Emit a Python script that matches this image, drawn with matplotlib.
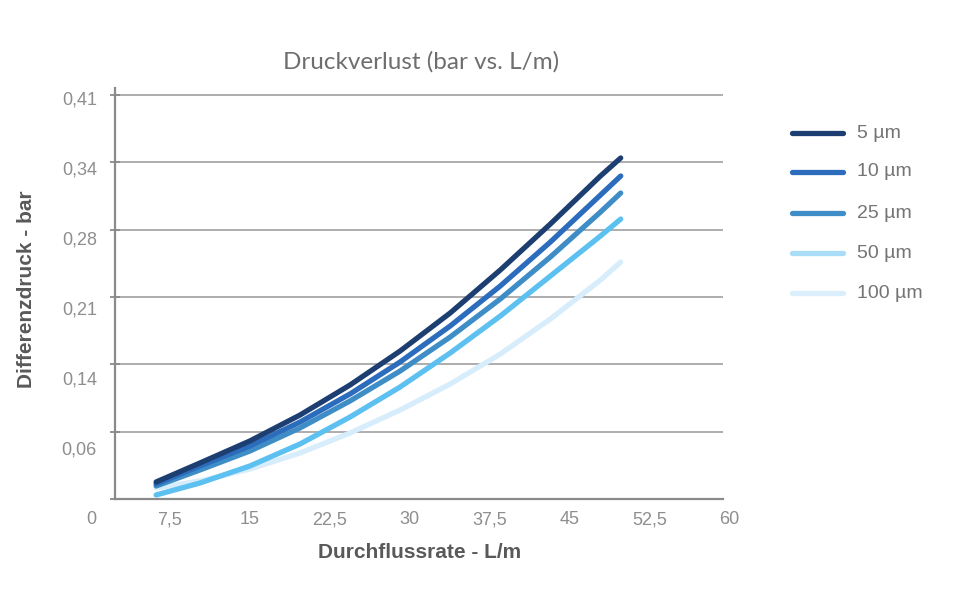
import matplotlib
matplotlib.use("Agg")
import matplotlib.pyplot as plt
from matplotlib.lines import Line2D

# ---- data ----
flow = [6.2, 10.3, 15.0, 19.7, 24.4, 29.1, 33.8, 38.5, 43.2, 47.9, 49.8]
series_names = ["5 µm", "10 µm", "25 µm", "50 µm", "100 µm"]
p_5 = [0.0173, 0.0365, 0.0589, 0.0852, 0.1157, 0.1502, 0.1888, 0.2324, 0.2791, 0.3278, 0.3461]
p_10 = [0.0152, 0.0335, 0.0538, 0.0781, 0.1066, 0.1391, 0.1756, 0.2162, 0.2608, 0.3085, 0.3278]
p_25 = [0.0132, 0.0294, 0.0487, 0.0721, 0.0995, 0.1299, 0.1644, 0.2030, 0.2456, 0.2912, 0.3105]
p_50 = [0.0041, 0.0162, 0.0335, 0.0558, 0.0832, 0.1137, 0.1482, 0.1857, 0.2263, 0.2669, 0.2841]
p_100 = [0.0112, 0.0183, 0.0304, 0.0467, 0.0670, 0.0903, 0.1167, 0.1471, 0.1827, 0.2222, 0.2405]
series_values = [p_5, p_10, p_25, p_50, p_100]

x_tick_labels = ["7,5", "15", "22,5", "30", "37,5", "45", "52,5", "60"]
x_tick_values = [7.5, 15, 22.5, 30, 37.5, 45, 52.5, 60]
y_tick_labels = ["0", "0,06", "0,14", "0,21", "0,28", "0,34", "0,41"]

# ---- style ----
line_colors = ["#1d3e71", "#2b6cbc", "#3e8dc6", "#5cc0f0", "#d7edfb"]
legend_colors = ["#1d3e71", "#2b6cbc", "#3e8dc6", "#a9dcf6", "#dbeefb"]
label_gray = "#8e8e8e"
grid_gray = "#a0a0a0"

fig = plt.figure(figsize=(9.58, 6.0), dpi=100)
ax = fig.add_axes([115 / 958, 1 - 499 / 600, (723 - 115) / 958, (499 - 88) / 600])

grid_step = 0.41 / 6
grid_vals = [grid_step * k for k in range(7)]

ax.set_xlim(2.34, 59.4)
ax.set_ylim(0, 0.4171)

for g in grid_vals[1:]:
    ax.axhline(g, color=grid_gray, lw=1.2, zorder=1)

order = [4, 3, 2, 1, 0]
for i in order:
    ax.plot(flow, series_values[i], color=line_colors[i], lw=3.8,
            solid_capstyle="round", solid_joinstyle="round", zorder=3)

for s in ["top", "right"]:
    ax.spines[s].set_visible(False)
ax.spines["left"].set_color("#8a8a8a")
ax.spines["left"].set_linewidth(1.6)
ax.spines["bottom"].set_color("#8a8a8a")
ax.spines["bottom"].set_linewidth(1.6)

ax.set_yticks(grid_vals)
ax.set_yticklabels([])
ax.tick_params(axis="y", direction="inout", length=7, width=1.3, colors="#8a8a8a")
ax.set_xticks([])

# y labels (drawn as text, placement as in reference)
lab_y0 = -0.0213
lab_dy = 0.0711
for k, lab in enumerate(y_tick_labels):
    ax.text(-0.030, lab_y0 + k * lab_dy, lab, transform=ax.get_yaxis_transform(),
            ha="right", va="center", fontsize=13, color=label_gray,
            family="Liberation Sans", clip_on=False)
# x labels
for v, lab in zip(x_tick_values, x_tick_labels):
    ax.text(v, lab_y0, lab, ha="center", va="center", fontsize=13,
            color=label_gray, family="Liberation Sans", clip_on=False)

fig.text(421 / 958, 1 - 62 / 600, "Druckverlust (bar vs. L/m)", ha="center",
         va="center", fontsize=17.5, color="#6e6e6e", family="Lato")
fig.text(420 / 958, 1 - 552 / 600, "Durchflussrate - L/m", ha="center",
         va="center", fontsize=15, color="#595959", family="Liberation Sans",
         fontweight="bold")
fig.text(27 / 958, 1 - 289 / 600, "Differenzdruck - bar", ha="center",
         va="center", fontsize=15, color="#595959", family="Liberation Sans",
         fontweight="bold", rotation=90)

# legend
leg_y = [133, 172, 213, 253, 293]
for name, col, yp in zip(series_names, legend_colors, leg_y):
    yf = 1 - yp / 600
    fig.add_artist(Line2D([792 / 958, 843 / 958], [yf, yf], color=col, lw=3.8,
                          solid_capstyle="round", transform=fig.transFigure))
    fig.text(857 / 958, yf, name, ha="left", va="center", fontsize=14,
             color="#747474", family="Liberation Sans")

fig.savefig("out.png", dpi=100, facecolor="white")
